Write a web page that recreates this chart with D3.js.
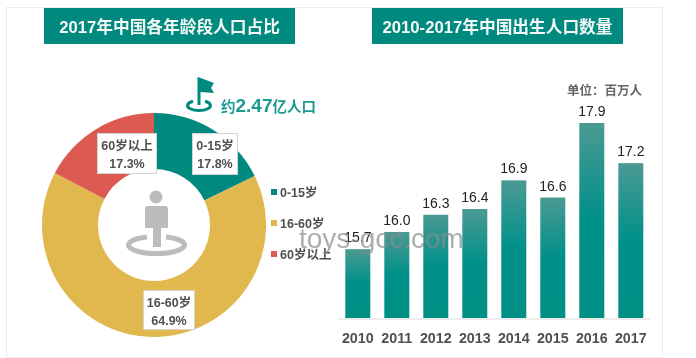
<!DOCTYPE html>
<html><head><meta charset="utf-8">
<script src="https://cdn.jsdelivr.net/npm/d3@7"></script>
<style>
html,body{margin:0;padding:0;background:#fff;overflow:hidden}
svg{display:block;filter:blur(0.35px)}
text{font-family:"Liberation Sans","Noto Sans CJK SC",sans-serif}
</style></head><body>
<svg id="c" width="696" height="358"></svg>
<script>
const ageCategories=["0-15岁","16-60岁","60岁以上"];
const ageShares=[17.8,64.9,17.3];
const ageColors=["#00897e","#e1b84e","#dc5a52"];
const years=["2010","2011","2012","2013","2014","2015","2016","2017"];
const births=[15.7,16.0,16.3,16.4,16.9,16.6,17.9,17.2];
const leftTitle="2017年中国各年龄段人口占比";
const rightTitle="2010-2017年中国出生人口数量";
const unitLabel="单位\uFF1A百万人";
const watermark="toys-gcc.com";

const svg=d3.select("#c");
const TEAL="#00897e",INK="#505050";
svg.append("rect").attr("x",6.5).attr("y",7.5).attr("width",656).attr("height",350)
  .attr("fill","#fff").attr("stroke","#ececec");

const grad=svg.append("defs").append("linearGradient").attr("id","bg").attr("x1",0).attr("y1",0).attr("x2",0).attr("y2",1);
grad.append("stop").attr("offset",0).attr("stop-color","#4b9a93");
grad.append("stop").attr("offset",.5).attr("stop-color","#00908a");
grad.append("stop").attr("offset",1).attr("stop-color","#008f84");

// title banners
[[44,251,leftTitle],[372,251,rightTitle]].forEach(([x,w,t])=>{
  svg.append("rect").attr("x",x).attr("y",8).attr("width",w).attr("height",36).attr("fill",TEAL);
  svg.append("text").attr("x",x+w/2).attr("y",32.5).attr("text-anchor","middle")
    .attr("font-size",16.7).attr("font-weight",700).attr("fill","#f4f8f7").text(t);
});

// donut
const cx=154,cy=225;
const pie=d3.pie().sort(null)(ageShares);
const arc=d3.arc().innerRadius(56).outerRadius(112);
const g=svg.append("g").attr("transform",`translate(${cx},${cy})`);
g.selectAll("path").data(pie).join("path").attr("d",arc).attr("fill",(d,i)=>ageColors[i]);

// donut labels
const boxes=[[192,133,45,41],[143,290,51,39],[97,133,59,40]];
ageCategories.forEach((c,i)=>{
  const [x,y,w,h]=boxes[i];
  svg.append("rect").attr("x",x+.5).attr("y",y+.5).attr("width",w).attr("height",h)
    .attr("fill","#fff").attr("stroke","#d4d4d4");
  const t=svg.append("text").attr("text-anchor","middle").attr("font-size",12.5).attr("font-weight",700).attr("fill",INK);
  t.append("tspan").attr("x",x+w/2+.5).attr("y",y+16.5).text(c);
  t.append("tspan").attr("x",x+w/2+.5).attr("y",y+35).text(ageShares[i].toFixed(1)+"%");
});

// person icon
const GREY="#bdbbbd";
const person=svg.append("g");
person.append("path").attr("d","M147 237 A28 8.5 0 1 0 166 237")
  .attr("fill","none").attr("stroke",GREY).attr("stroke-width",5);
person.append("circle").attr("cx",156).attr("cy",197).attr("r",6.5).attr("fill",GREY);
person.append("path").attr("fill",GREY)
  .attr("d","M148 206 H165 Q168 206 168 209 V228 H161 V247 H153 V228 H145 V209 Q145 206 148 206 Z");

// flag callout
const flag=svg.append("g");
flag.append("path").attr("d","M193 101.2 A11.5 5 0 1 0 205 101.2").attr("fill","none").attr("stroke",TEAL).attr("stroke-width",3);
flag.append("path").attr("fill",TEAL).attr("d","M198 77 L214 83 L211 88 L214 93 L200.5 92 V105 H197.5 V77 Z");
const cal=svg.append("text").attr("x",221).attr("y",111.5).attr("font-weight",700).attr("fill","#1c9a90");
cal.append("tspan").attr("font-size",14.5).text("约");
cal.append("tspan").attr("font-size",19).text("2.47");
cal.append("tspan").attr("font-size",14.5).text("亿人口");

// legend
const legY=[192,223,254];
ageCategories.forEach((c,i)=>{
  svg.append("rect").attr("x",271).attr("y",legY[i]-3).attr("width",6).attr("height",6).attr("fill",ageColors[i]);
  svg.append("text").attr("x",280).attr("y",legY[i]+4.5).attr("font-size",12.5).attr("font-weight",700).attr("fill",INK).text(c);
});

// bar chart
const x=d3.scaleBand().domain(years).range([338.3,650.3]).paddingInner(14/39).paddingOuter(7/39);
const y=d3.scaleLinear().domain([14.5,17.9]).range([318,123]);
svg.selectAll("rect.bar").data(births).join("rect").attr("class","bar")
  .attr("x",(d,i)=>x(years[i])).attr("width",x.bandwidth())
  .attr("y",d=>y(d)).attr("height",d=>y(14.5)-y(d)).attr("fill","url(#bg)");
svg.selectAll("text.val").data(births).join("text").attr("class","val")
  .attr("x",(d,i)=>x(years[i])+x.bandwidth()/2).attr("y",d=>y(d)-7)
  .attr("text-anchor","middle").attr("font-size",14).attr("fill","#222").text(d=>d.toFixed(1));
const axis=svg.append("g").attr("transform","translate(0,318.5)")
  .call(d3.axisBottom(x).tickSize(0).tickPadding(14));
axis.select(".domain").attr("stroke","#d9d9d9");
axis.selectAll("text").attr("font-size",14.3).attr("font-weight",700).attr("fill",INK).attr("font-family",null);
svg.append("text").attr("x",567).attr("y",94.5).attr("font-size",12.5).attr("font-weight",700).attr("fill","#666").text(unitLabel);

// watermark
svg.append("text").attr("x",299).attr("y",248).attr("font-size",28).attr("fill","#8a8a8a").attr("fill-opacity",.7).text(watermark);
</script></body></html>
